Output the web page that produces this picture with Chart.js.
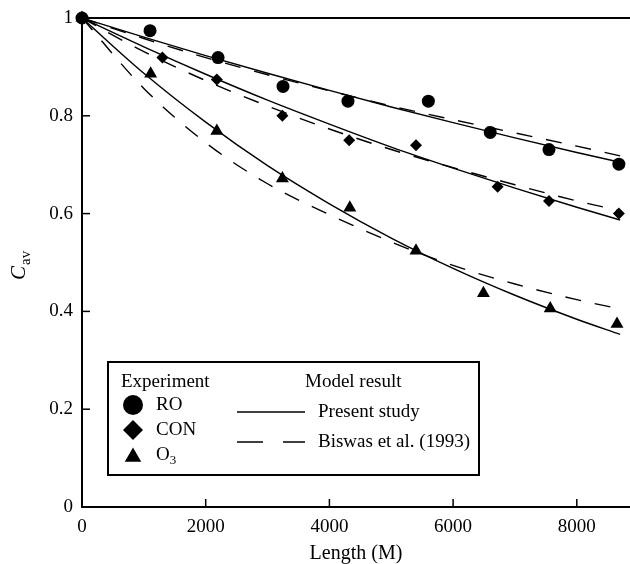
<!DOCTYPE html>
<html>
<head>
<meta charset="utf-8">
<title>Cav versus length</title>
<script src="https://cdn.jsdelivr.net/npm/chart.js@4.4.0/dist/chart.umd.min.js"></script>
<style>
  html, body { margin: 0; padding: 0; background: #fff; overflow: hidden; }
  #wrap { width: 630px; height: 564px; position: relative; }
  canvas { display: block; }
</style>
</head>
<body>
<div id="wrap"><canvas id="chart"></canvas></div>
<script>
'use strict';

//#region Data

// experiment points
const roLength = [0, 1100, 2200, 3250, 4300, 5600, 6600, 7550, 8680];
const roCav = [1, 0.974, 0.919, 0.860, 0.830, 0.830, 0.766, 0.731, 0.701];

const conLength = [0, 1300, 2180, 3240, 4320, 5400, 6720, 7550, 8680];
const conCav = [1, 0.919, 0.874, 0.800, 0.750, 0.740, 0.655, 0.626, 0.600];

const o3Length = [0, 1110, 2180, 3240, 4330, 5400, 6490, 7570, 8650];
const o3Cav = [1, 0.886, 0.769, 0.672, 0.612, 0.524, 0.437, 0.406, 0.374];

// model curves
const curveLength = [0, 1000, 2000, 3000, 4000, 5000, 6000, 7000, 8000, 8700];
const roPresent = [1, 0.961, 0.923, 0.887, 0.852, 0.818, 0.786, 0.755, 0.725, 0.705];
const roBiswas = [1, 0.958, 0.919, 0.884, 0.851, 0.820, 0.792, 0.765, 0.738, 0.718];
const conPresent = [1, 0.941, 0.885, 0.832, 0.783, 0.736, 0.693, 0.652, 0.613, 0.587];
const conBiswas = [1, 0.931, 0.872, 0.820, 0.773, 0.731, 0.694, 0.659, 0.626, 0.606];
const o3Present = [1, 0.887, 0.787, 0.698, 0.620, 0.550, 0.488, 0.433, 0.384, 0.353];
const o3Biswas = [1, 0.856, 0.745, 0.661, 0.598, 0.542, 0.494, 0.456, 0.424, 0.405];

const xTicks = [0, 2000, 4000, 6000, 8000];
const yTicks = [0, 0.2, 0.4, 0.6, 0.8, 1];

//#endregion

const serif = 'Liberation Serif';
const chartElem = document.getElementById('chart');

function toPoints(xs, ys) {
  return xs.map((x, i) => ({ x: x, y: ys[i] }));
}

function markerSet(label, xs, ys, style, radius) {
  return {
    type: 'scatter',
    label: label,
    data: toPoints(xs, ys),
    pointStyle: style,
    pointRadius: radius,
    pointHoverRadius: radius,
    backgroundColor: '#000',
    borderColor: '#000',
    borderWidth: 0,
    showLine: false,
    clip: false
  };
}

function curveSet(label, ys, dash) {
  return {
    type: 'line',
    label: label,
    data: toPoints(curveLength, ys),
    borderColor: '#000',
    borderWidth: 1.4,
    borderDash: dash,
    pointRadius: 0,
    cubicInterpolationMode: 'monotone',
    fill: false
  };
}

//#region Plugin: frame, inward ticks, y title, legend box

const framePlugin = {
  id: 'frame',
  beforeDatasetsDraw(chart) {
    const ctx = chart.ctx;
    const area = chart.chartArea;
    const xs = chart.scales.x;
    const ys = chart.scales.y;
    ctx.save();
    ctx.strokeStyle = '#000';
    ctx.lineWidth = 2;
    ctx.beginPath();
    ctx.moveTo(area.left, area.top);
    ctx.lineTo(area.right, area.top);
    ctx.stroke();
    ctx.lineWidth = 1.5;
    xTicks.forEach(v => {
      const px = xs.getPixelForValue(v);
      ctx.beginPath();
      ctx.moveTo(px, area.bottom);
      ctx.lineTo(px, area.bottom - 8);
      ctx.stroke();
    });
    yTicks.forEach(v => {
      const py = ys.getPixelForValue(v);
      ctx.beginPath();
      ctx.moveTo(area.left, py);
      ctx.lineTo(area.left + 8, py);
      ctx.stroke();
    });

    // y axis title C_av
    ctx.translate(25, 280);
    ctx.rotate(-Math.PI / 2);
    ctx.fillStyle = '#000';
    ctx.textBaseline = 'alphabetic';
    ctx.textAlign = 'left';
    ctx.font = 'italic 21px "' + serif + '"';
    ctx.fillText('C', 0, 0);
    const cw = ctx.measureText('C').width;
    ctx.font = '15px "' + serif + '"';
    ctx.fillText('av', cw + 1, 5);
    ctx.restore();
  },
  afterDraw(chart) {
    const ctx = chart.ctx;
    const helpers = Chart.helpers;
    ctx.save();
    ctx.fillStyle = '#fff';
    ctx.fillRect(108, 362, 371, 113);
    ctx.strokeStyle = '#000';
    ctx.lineWidth = 2;
    ctx.strokeRect(108, 362, 371, 113);

    ctx.fillStyle = '#000';
    ctx.textBaseline = 'middle';
    ctx.textAlign = 'left';
    ctx.font = '19px "' + serif + '"';
    ctx.fillText('Experiment', 121, 382);
    ctx.fillText('Model result', 305, 382);

    const markerOpts = { borderWidth: 0, rotation: 0 };
    helpers.drawPoint(ctx, Object.assign({ pointStyle: 'circle', radius: 10 }, markerOpts), 133, 405);
    helpers.drawPoint(ctx, Object.assign({ pointStyle: 'rectRot', radius: 10 }, markerOpts), 133, 430);
    helpers.drawPoint(ctx, Object.assign({ pointStyle: 'triangle', radius: 9.5 }, markerOpts), 133, 457);

    ctx.fillText('RO', 156, 405);
    ctx.fillText('CON', 156, 430);
    ctx.fillText('O', 156, 455);
    const ow = ctx.measureText('O').width;
    ctx.font = '13px "' + serif + '"';
    ctx.fillText('3', 156 + ow, 461);

    ctx.lineWidth = 1.5;
    ctx.beginPath();
    ctx.moveTo(237, 412);
    ctx.lineTo(305, 412);
    ctx.stroke();
    ctx.setLineDash([26, 20]);
    ctx.beginPath();
    ctx.moveTo(237, 442);
    ctx.lineTo(305, 442);
    ctx.stroke();
    ctx.setLineDash([]);

    ctx.font = '19px "' + serif + '"';
    ctx.fillText('Present study', 318, 412);
    ctx.fillText('Biswas et al. (1993)', 318, 442);
    ctx.restore();
  }
};

//#endregion

const chartObj = {
  type: 'scatter',
  data: {
    datasets: [
      curveSet('RO present study', roPresent, []),
      curveSet('RO Biswas et al. (1993)', roBiswas, [16, 14]),
      curveSet('CON present study', conPresent, []),
      curveSet('CON Biswas et al. (1993)', conBiswas, [16, 14]),
      curveSet('O3 present study', o3Present, []),
      curveSet('O3 Biswas et al. (1993)', o3Biswas, [16, 14]),
      markerSet('RO', roLength, roCav, 'circle', 6.5),
      markerSet('CON', conLength, conCav, 'rectRot', 6),
      markerSet('O3', o3Length, o3Cav, 'triangle', 7.5)
    ]
  },
  options: {
    responsive: true,
    maintainAspectRatio: false,
    animation: false,
    layout: {
      autoPadding: false,
      padding: { top: 18, right: 0, left: 0, bottom: 0 }
    },
    plugins: {
      legend: { display: false },
      tooltip: { enabled: false }
    },
    scales: {
      x: {
        type: 'linear',
        min: 0,
        max: 8860,
        afterBuildTicks: scale => { scale.ticks = xTicks.map(v => ({ value: v })); },
        afterFit: scale => {
          scale.height = 57;
          scale.paddingLeft = 0;
          scale.paddingRight = 0;
        },
        grid: { display: false, drawTicks: false },
        border: { color: '#000', width: 2 },
        ticks: {
          color: '#000',
          padding: 9,
          maxRotation: 0,
          font: { family: serif, size: 19 },
          callback: v => String(v)
        },
        title: {
          display: true,
          text: 'Length (M)',
          color: '#000',
          padding: { top: 0, bottom: 0 },
          font: { family: serif, size: 20, lineHeight: 1 }
        }
      },
      y: {
        type: 'linear',
        min: 0,
        max: 1,
        afterBuildTicks: scale => { scale.ticks = yTicks.map(v => ({ value: v })); },
        afterFit: scale => {
          scale.width = 82;
          scale.paddingTop = 0;
          scale.paddingBottom = 0;
        },
        grid: { display: false, drawTicks: false },
        border: { color: '#000', width: 2 },
        ticks: {
          color: '#000',
          padding: 9,
          font: { family: serif, size: 19 },
          callback: v => String(v)
        }
      }
    }
  },
  plugins: [framePlugin]
};

const chart = new Chart(chartElem.getContext('2d'), chartObj); //eslint-disable-line
</script>
</body>
</html>
